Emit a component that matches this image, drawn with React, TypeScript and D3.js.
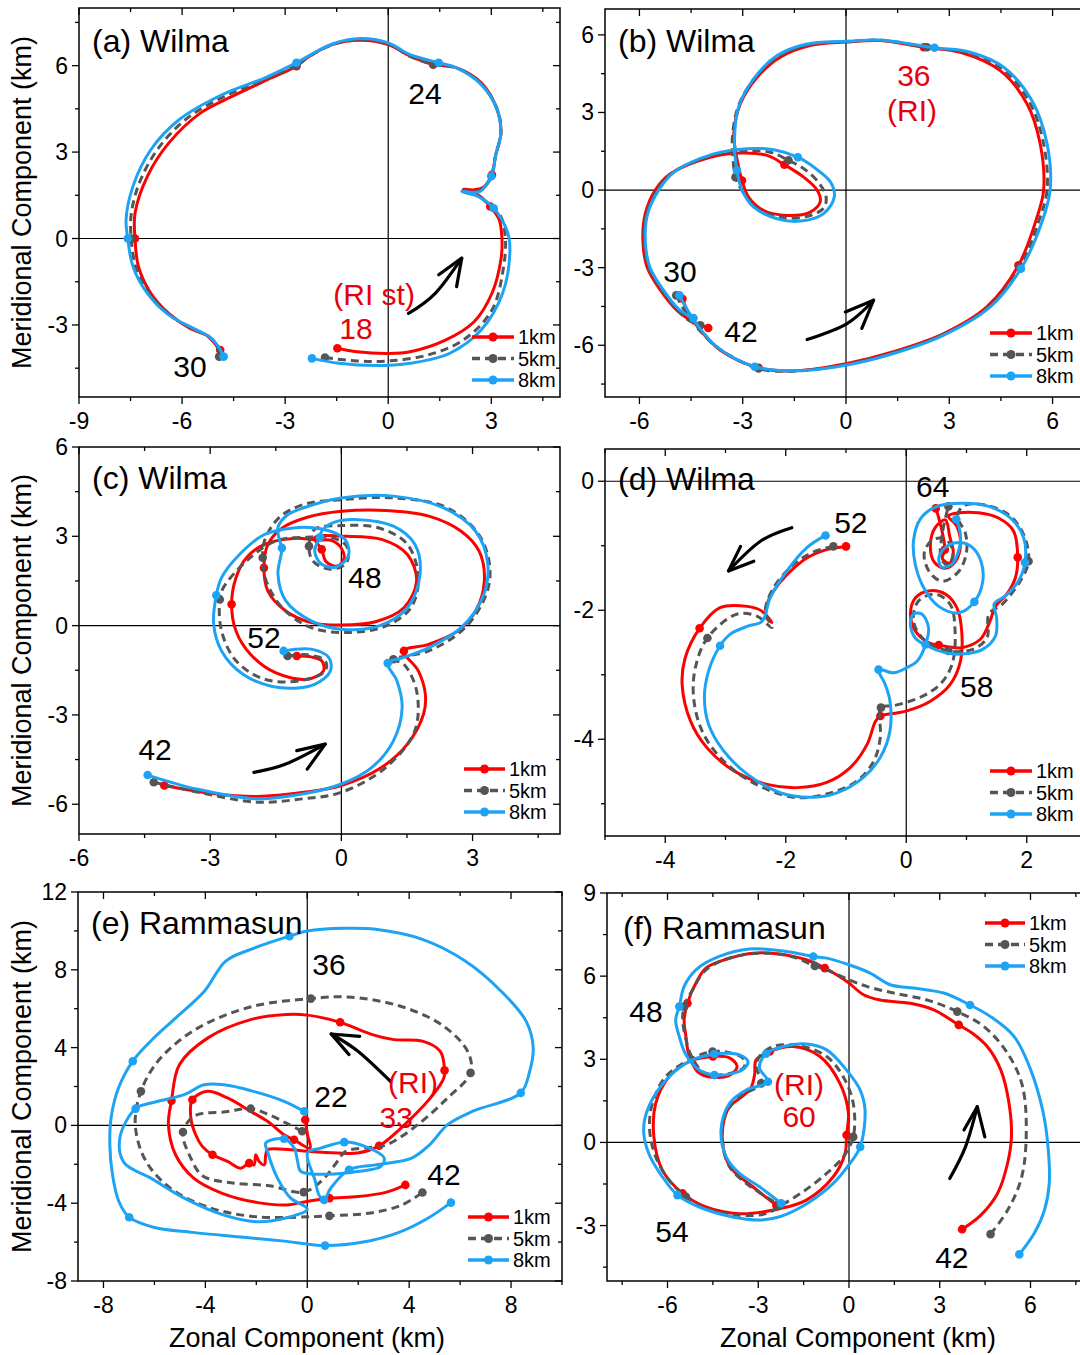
import React from "react";
import * as d3 from "d3";

type Pt = number[]; // [x, y, marker?]

// ---------------- data: panel (a) Wilma 18-30 h ----------------
const A_1KM: Pt[] = [[-1.48,-3.81,1],[-0.91,-3.93],[0,-3.99],[0.64,-3.93],[1.68,-3.52],[2.5,-2.89],[3.02,-1.9],[3.28,-0.74],[3.31,0],[3.23,0.65],[2.97,1.11,1],[2.61,1.52],[2.19,1.71],[2.5,1.69],[2.81,1.81],[3.02,2.21,1],[3.12,2.85],[3.28,3.66],[3.17,4.47],[2.71,5.4],[1.99,5.92],[1.31,6.04,1],[0.64,6.33],[0,6.73],[-0.81,6.88],[-1.63,6.73],[-2.36,6.27],[-2.67,5.98,1],[-3.5,5.52],[-4.53,4.94],[-5.46,4.36],[-6.39,3.31],[-7.01,2.16],[-7.37,0.88],[-7.37,0,1],[-7.27,-0.97],[-6.91,-1.9],[-6.39,-2.6],[-5.77,-3.12],[-5.3,-3.35],[-5.05,-3.64],[-4.89,-3.87,1]];
const A_5KM: Pt[] = [[-1.84,-4.13,1],[-0.91,-4.25],[0,-4.25],[1.16,-4.04],[2.19,-3.52],[3.02,-2.48],[3.36,-0.97],[3.41,0],[3.28,0.76],[3.0,1.1],[2.6,1.5],[2.17,1.68],[2.6,1.66],[2.8,1.8],[3.0,2.18],[3.13,2.9],[3.28,3.66],[3.18,4.47],[2.71,5.37],[1.99,5.92],[1.31,6.04,1],[0.64,6.32],[0,6.76],[-0.81,6.9],[-1.63,6.73],[-2.36,6.27],[-2.67,6.02,1],[-3.55,5.55],[-4.7,4.97],[-5.8,4.22],[-6.65,3.2],[-7.22,2.0],[-7.48,0.85],[-7.48,0,1],[-7.35,-0.97],[-6.96,-1.9],[-6.39,-2.62],[-5.72,-3.12],[-5.25,-3.38],[-5.0,-3.7],[-4.92,-4.1,1]];
const A_8KM: Pt[] = [[-2.22,-4.16,1],[-1.43,-4.33],[-0.39,-4.41],[0.64,-4.33],[1.78,-3.99],[2.71,-3.17],[3.33,-1.9],[3.54,-0.51],[3.48,0.19],[3.07,1.05,1],[2.61,1.46],[2.14,1.63],[2.66,1.63],[3.0,2.16,1],[3.14,2.97],[3.28,3.66],[3.17,4.47],[2.71,5.34],[1.99,5.92],[1.47,6.1,1],[0.64,6.38],[0,6.79],[-0.81,6.94],[-1.63,6.75],[-2.67,6.1,1],[-3.6,5.57],[-4.84,4.99],[-6.08,4.13],[-6.91,3.08],[-7.43,1.81],[-7.63,0.65],[-7.58,0,1],[-7.43,-0.97],[-7.01,-1.9],[-6.39,-2.65],[-5.67,-3.12],[-5.2,-3.41],[-4.94,-3.75],[-4.79,-4.1,1]];

// ---------------- data: panel (b) Wilma 30-42 h ----------------
const B_1KM: Pt[] = [[-4.75,-4.2,1],[-4.57,-4.77],[-4.23,-5.42],[-3.65,-6.19],[-2.54,-6.87,1],[-1.52,-6.99],[0,-6.71],[1.38,-6.25],[2.84,-5.55],[4.09,-4.52],[5.01,-2.91,1],[5.55,-1.04],[5.74,0],[5.64,1.79],[5.26,3.33],[4.48,4.62],[3.32,5.33],[2.26,5.52,1],[1.0,5.78],[0,5.72],[-1.04,5.59],[-1.91,5.14],[-2.58,4.36],[-3.07,3.33],[-3.26,2.18],[-3.21,1.53],[-3.12,0.89],[-3.02,0.37,1],[-2.83,-0.27],[-2.39,-0.79],[-1.71,-0.98],[-1.04,-0.85],[-0.75,-0.46],[-0.84,0],[-1.23,0.5],[-1.79,0.98,1],[-2.29,1.34],[-3.07,1.43],[-3.94,1.27],[-5.1,0.63],[-5.54,0],[-5.83,-0.91],[-5.9,-1.94],[-5.78,-2.97],[-5.39,-3.87],[-4.91,-4.65],[-4.42,-5.1],[-4.0,-5.33,1]];
const B_5KM: Pt[] = [[-4.93,-4.07,1],[-4.65,-4.75],[-4.3,-5.35],[-3.7,-6.12],[-2.54,-6.9,1],[-1.52,-7.0],[0,-6.74],[1.38,-6.28],[2.84,-5.58],[4.14,-4.52],[5.06,-2.97,1],[5.6,-1.2],[5.84,0],[5.74,1.79],[5.33,3.4],[4.53,4.7],[3.45,5.33],[2.35,5.52,1],[1.0,5.79],[0,5.74],[-1.08,5.62],[-1.95,5.17],[-2.65,4.33],[-3.12,3.27],[-3.3,2.05],[-3.28,1.2],[-3.21,0.5,1],[-2.98,-0.1],[-2.55,-0.73],[-1.85,-1.06],[-1.15,-1.02],[-0.65,-0.7],[-0.58,-0.25],[-0.8,0.3],[-1.2,0.8],[-1.67,1.15,1],[-2.2,1.46],[-2.98,1.52],[-3.9,1.33],[-5.05,0.66],[-5.49,0],[-5.8,-0.91],[-5.87,-1.94],[-5.74,-2.97],[-5.35,-3.87],[-4.89,-4.65],[-4.55,-5.05],[-4.23,-5.23,1]];
const B_8KM: Pt[] = [[-4.84,-4.07,1],[-4.62,-4.6],[-4.3,-5.25],[-3.75,-6.06],[-2.65,-6.83,1],[-1.52,-6.99],[0,-6.77],[1.38,-6.32],[2.84,-5.61],[4.19,-4.52],[5.08,-3.04,1],[5.64,-1.43],[5.93,0],[5.84,1.79],[5.4,3.46],[4.58,4.75],[3.61,5.33],[2.57,5.5,1],[1.0,5.8],[0,5.75],[-1.13,5.65],[-2.0,5.2],[-2.68,4.3],[-3.12,3.2],[-3.24,1.92],[-3.17,0.76,1],[-3.02,0],[-2.68,-0.66],[-2.0,-1.11],[-1.33,-1.2],[-0.65,-0.91],[-0.34,-0.27],[-0.45,0.31],[-0.94,0.89],[-1.4,1.27,1],[-2.1,1.56],[-2.88,1.6],[-3.84,1.4],[-5.0,0.69],[-5.44,0],[-5.76,-0.91],[-5.83,-1.94],[-5.7,-2.97],[-5.3,-3.87],[-4.86,-4.6],[-4.43,-4.95,1]];

// ---------------- data: panel (c) Wilma 42-54 h ----------------
const C_1KM: Pt[] = [[-4.05,-5.37,1],[-2.9,-5.65],[-1.92,-5.74],[-0.86,-5.6],[0,-5.37],[0.86,-4.82],[1.51,-3.98],[1.88,-2.97],[1.92,-2.3],[1.76,-1.52],[1.43,-0.85,1],[2.0,-0.63],[2.66,-0.18],[3.07,0.49],[3.27,1.5],[3.15,2.5],[2.74,3.17],[2.0,3.68],[1.02,3.87],[0,3.84],[-0.78,3.64],[-1.35,3.28],[-1.68,2.73],[-1.77,1.94,1],[-1.68,1.16],[-1.27,0.49],[-0.69,0.1],[0,0.02],[0.78,0.13],[1.43,0.6],[1.72,1.5],[1.51,2.39],[0.94,2.89],[0.12,3.0],[-0.61,2.95],[-0.45,2.56,1],[-0.35,2.15],[-0.1,2.0],[0.06,2.25],[0.0,2.6],[-0.2,2.85],[-0.55,2.88],[-1.1,2.93],[-1.76,2.73],[-2.17,2.28],[-2.41,1.61],[-2.51,0.72,1],[-2.41,-0.18],[-2.08,-0.96],[-1.51,-1.58],[-0.78,-1.8],[-0.41,-1.52],[-0.45,-1.18],[-0.69,-1.05],[-1.02,-1.02,1]];
const C_5KM: Pt[] = [[-4.29,-5.26,1],[-3.2,-5.62],[-1.92,-5.93],[-0.9,-5.82],[0,-5.6],[1.02,-4.76],[1.68,-3.53],[1.72,-2.19],[1.43,-1.3],[1.19,-1.13,1],[2.0,-0.85],[2.9,0.04],[3.39,1.5],[3.19,2.95],[2.41,3.96],[1.19,4.29],[0,4.23],[-0.86,4.07],[-1.43,3.62],[-1.76,2.84],[-1.8,2.28,1],[-1.72,1.5],[-1.35,0.6],[-0.69,-0.07],[0.2,-0.23],[1.02,-0.01],[1.59,0.6],[1.76,1.61],[1.51,2.73],[0.86,3.28],[0.04,3.36],[-0.61,3.23],[-0.74,2.67,1],[-0.65,2.17],[-0.25,1.89],[0.12,2.11],[0.12,2.67],[-0.2,2.95],[-0.78,2.97],[-1.51,2.84],[-2.17,2.17],[-2.7,1.27],[-2.78,0.88,1],[-2.74,-0.18],[-2.41,-1.18],[-1.76,-1.8],[-0.94,-1.85],[-0.37,-1.52],[-0.37,-1.18],[-0.78,-0.98],[-1.23,-1.02,1]];
const C_8KM: Pt[] = [[-4.43,-5.02,1],[-3.31,-5.49],[-1.92,-5.82],[-0.86,-5.65],[0,-5.32],[0.7,-4.76],[1.19,-3.87],[1.39,-2.75],[1.27,-1.85],[1.06,-1.26,1],[1.43,-1.07],[2.0,-0.74],[2.74,-0.07],[3.23,0.94],[3.35,2.06],[3.07,3.17],[2.33,3.96],[1.19,4.35],[0,4.29],[-0.86,3.96],[-1.25,3.7],[-1.45,3.3],[-1.42,2.9],[-1.36,2.61,1],[-1.45,1.72],[-1.27,0.83],[-0.69,0.16],[0,-0.12],[0.86,-0.01],[1.51,0.6],[1.8,1.72],[1.68,2.73],[1.19,3.34],[0.37,3.56],[-0.2,3.45],[-0.45,3.17],[-0.49,2.97,1],[-0.61,2.5],[-0.45,2.06],[-0.12,1.97],[0.16,2.34],[0.11,2.84],[-0.16,3.12],[-0.61,3.28],[-1.1,3.28],[-1.76,3.06],[-2.33,2.39],[-2.74,1.61],[-2.86,1.02,1],[-2.92,0.04],[-2.74,-0.85],[-2.25,-1.63],[-1.43,-2.08],[-0.61,-1.97],[-0.25,-1.52],[-0.29,-1.07],[-0.69,-0.79],[-1.32,-0.85,1]];

// ---------------- data: panel (d) Wilma 52-64 h ----------------
const D_1KM: Pt[] = [[-1.0,-1.01,1],[-1.32,-1.06],[-1.65,-1.19],[-1.98,-1.45],[-2.2,-1.7],[-2.31,-1.91],[-2.32,-2.12],[-2.23,-2.19],[-2.4,-2.01],[-2.64,-1.94],[-3.09,-1.96],[-3.43,-2.28,1],[-3.67,-2.74],[-3.72,-3.15],[-3.58,-3.72],[-3.31,-4.13],[-2.86,-4.49],[-2.31,-4.7],[-1.81,-4.75],[-1.32,-4.67],[-0.93,-4.44],[-0.65,-4.08],[-0.51,-3.72],[-0.43,-3.64,1],[-0.21,-3.6],[0.01,-3.56],[0.4,-3.41],[0.73,-3.15],[0.9,-2.79],[0.92,-2.32],[0.84,-1.96],[0.65,-1.75],[0.37,-1.7],[0.15,-1.81],[0.07,-2.06],[0.15,-2.32],[0.37,-2.5],[0.54,-2.54,1],[0.92,-2.58],[1.23,-2.45],[1.39,-2.17],[1.48,-1.94],[1.67,-1.75],[1.81,-1.5],[1.85,-1.18,1],[1.78,-0.77],[1.53,-0.57],[1.2,-0.49],[0.87,-0.49],[0.7,-0.54],[0.84,-0.7],[0.9,-0.98],[0.82,-1.24],[0.65,-1.35],[0.47,-1.26],[0.4,-1.01],[0.48,-0.72],[0.65,-0.6],[0.72,-0.85],[0.78,-1.1],[0.72,-1.27],[0.6,-1.2],[0.64,-1.06,1],[0.6,-0.8],[0.54,-0.57],[0.49,-0.42,1]];
const D_5KM: Pt[] = [[-1.21,-1.01,1],[-1.55,-1.1],[-1.87,-1.29],[-2.2,-1.65],[-2.34,-2.01],[-2.23,-2.27],[-2.48,-2.09],[-2.81,-2.06],[-3.3,-2.43,1],[-3.5,-2.89],[-3.53,-3.35],[-3.39,-3.87],[-3.09,-4.28],[-2.59,-4.65],[-1.87,-4.9],[-1.32,-4.85],[-0.82,-4.65],[-0.54,-4.34],[-0.43,-3.97],[-0.42,-3.51,1],[-0.21,-3.48],[0.23,-3.35],[0.56,-3.15],[0.76,-2.84],[0.81,-2.32],[0.73,-1.91],[0.48,-1.75],[0.2,-1.86],[0.12,-2.17],[0.32,-2.48],[0.7,-2.63,1],[1.09,-2.61],[1.34,-2.43],[1.37,-2.06],[1.59,-1.91],[1.89,-1.55],[2.03,-1.24,1],[1.95,-0.83],[1.7,-0.52],[1.26,-0.36],[0.95,-0.38],[0.85,-0.55],[0.98,-0.8],[1.0,-1.1],[0.87,-1.4],[0.6,-1.55],[0.38,-1.4],[0.3,-1.1],[0.45,-0.9],[0.65,-0.9],[0.78,-1.1],[0.7,-1.3],[0.58,-1.2],[0.6,-0.8],[0.7,-0.39,1]];
const D_8KM: Pt[] = [[-1.34,-0.84,1],[-1.65,-1.03],[-1.98,-1.39],[-2.26,-1.81],[-2.39,-2.17],[-2.64,-2.25],[-2.92,-2.37],[-3.09,-2.55,1],[-3.28,-2.94],[-3.35,-3.35],[-3.28,-3.77],[-3.03,-4.18],[-2.64,-4.54],[-2.09,-4.83],[-1.59,-4.9],[-1.15,-4.83],[-0.71,-4.59],[-0.43,-4.28],[-0.27,-3.87],[-0.27,-3.41],[-0.35,-3.15],[-0.46,-2.92,1],[-0.21,-2.97],[0.01,-2.89],[0.18,-2.79],[0.32,-2.53,1],[0.37,-2.27],[0.26,-2.06],[0.12,-2.06],[0.07,-2.22],[0.15,-2.43],[0.34,-2.55],[0.65,-2.66],[0.92,-2.68],[1.26,-2.61],[1.48,-2.4],[1.5,-2.12],[1.46,-1.9],[1.64,-1.78],[1.86,-1.55],[1.97,-1.26,1],[1.95,-0.88],[1.73,-0.57],[1.37,-0.39],[0.92,-0.34],[0.48,-0.4],[0.23,-0.59],[0.12,-0.93],[0.15,-1.29],[0.29,-1.65],[0.54,-1.94],[0.87,-2.04],[1.13,-1.87,1],[1.27,-1.55],[1.24,-1.24],[1.1,-1.03],[0.9,-0.95],[0.67,-1.01],[0.54,-1.19],[0.59,-1.33],[0.75,-1.29],[0.86,-1.11],[0.9,-0.83],[0.83,-0.59,1]];

// ---------------- data: panel (e) Rammasun 22-42 h ----------------
const E_1KM: Pt[] = [[-0.08,0.29,1],[0.01,-0.48],[0.11,-1.17],[-0.52,-0.74,1],[-0.91,-0.48],[-1.56,0.21],[-2.22,0.72],[-3.13,1.41],[-3.92,1.75],[-4.51,1.32,1],[-4.57,0.38],[-4.38,-0.48],[-4.12,-1.08],[-3.72,-1.51,1],[-3.13,-1.85],[-2.61,-2.2],[-2.28,-1.94,1],[-2.09,-2.03],[-2.02,-1.51],[-1.89,-1.85],[-1.69,-2.03],[-1.63,-1.51],[-1.56,-1.25],[-0.65,-1.25],[0.11,-1.34],[1.18,-1.42],[1.97,-1.42],[2.82,-1.05,1],[3.96,0.21],[4.94,1.58],[5.36,2.44],[5.39,2.83,1],[5.22,3.81],[4.52,4.33],[3.4,4.41],[2.55,4.67],[1.29,5.3,1],[0,5.67],[-0.81,5.7],[-2.22,5.44],[-3.9,4.5],[-5.02,3.12],[-5.33,1.27,1],[-5.45,0.03],[-5.17,-1.51],[-4.46,-2.71],[-3.34,-3.49],[-1.94,-3.97],[-0.81,-4.09],[0,-3.91],[0.87,-3.74,1],[1.99,-3.66],[3.12,-3.43],[3.85,-3.06,1]];
const E_5KM: Pt[] = [[-0.2,-0.3,1],[-0.8,0.1],[-1.5,0.55],[-2.22,0.86,1],[-3.2,0.7],[-4.4,0.5],[-4.88,-0.34,1],[-4.6,-1.6],[-4.1,-2.6],[-3.0,-2.95],[-1.5,-3.1],[-0.14,-3.43,1],[0.6,-2.8],[1.1,-2.0],[1.5,-1.35],[2.3,-1.15],[3.1,-1.0],[4.3,0.0],[5.5,1.4],[6.41,2.7,1],[6.3,3.8],[5.3,5.15],[3.6,6.15],[1.6,6.6],[0.14,6.52,1],[-2.2,6.1],[-4.3,5.0],[-5.8,3.4],[-6.53,1.75,1],[-6.75,0],[-6.35,-1.8],[-5.4,-3.2],[-3.9,-4.2],[-2.0,-4.7],[0,-4.7],[0.87,-4.65,1],[2.5,-4.5],[3.7,-4.1],[4.52,-3.45,1]];
const E_8KM: Pt[] = [[-0.12,0.72,1],[-0.91,1.24],[-2.22,1.79],[-3.26,2.09],[-4.05,2.09],[-4.83,1.58],[-6.14,1.15],[-6.74,0.86,1],[-7.35,-0.6],[-7.2,-1.9],[-6.14,-2.71],[-4.83,-3.74],[-3.3,-4.6],[-2.0,-4.95],[-0.81,-4.75],[0.0,-4.3],[-0.65,-3.74],[-1.17,-2.71],[-1.56,-1.34],[-1.63,-0.91],[-0.91,-0.69,1],[-0.5,-1.2],[-0.38,-1.85],[-0.25,-2.37],[0.79,-2.51],[1.97,-2.37],[2.89,-2.11],[3.02,-1.68],[2.36,-1.13],[1.45,-0.86,1],[0.53,-1.17],[0.01,-1.42],[0.3,-2.8],[0.47,-3.6],[0.66,-3.83,1],[0.92,-3.23],[1.64,-2.28,1],[2.69,-2.03],[4.1,-1.68],[4.8,-1.0],[5.5,0.03],[6.48,0.72],[8.38,1.67,1],[8.73,2.78],[8.87,3.98],[8.59,5.36],[7.61,6.9],[6.2,8.45],[4.52,9.56],[2.69,10.08],[1.43,10.13],[0,9.99],[-0.7,9.73,1],[-2.22,9.05],[-3.2,8.45],[-4.04,6.9],[-5.16,5.53],[-6.15,4.33],[-6.85,3.3,1],[-7.41,1.92],[-7.7,0.4],[-7.75,-1.0],[-7.65,-2.5],[-7.4,-3.9],[-6.99,-4.72,1],[-6.0,-5.25],[-4.5,-5.5],[-2.5,-5.75],[-0.91,-5.95],[0.7,-6.18,1],[2.2,-6.0],[3.6,-5.5],[4.7,-4.8],[5.64,-3.97,1]];

// ---------------- data: panel (f) Rammasun 42-60 h ----------------
const F_1KM: Pt[] = [[3.74,-3.13,1],[4.35,-2.63],[4.91,-1.84],[5.24,-0.76],[5.37,0.2],[5.29,1.41],[5.02,2.61],[4.57,3.46],[4.08,3.94],[3.63,4.24,1],[2.8,4.78],[2.03,5.02],[1.03,5.14],[0.48,5.33],[0,5.75],[-0.41,6.05],[-0.8,6.29,1],[-1.41,6.59],[-2.4,6.81],[-3.18,6.83],[-4.06,6.61],[-4.73,6.29],[-5.06,5.75],[-5.34,5.02,1],[-5.45,4.42],[-5.39,3.82],[-5.3,3.2],[-5.0,2.55],[-4.5,2.35],[-3.9,2.45],[-3.7,2.75],[-3.95,3.05],[-4.5,3.1,1],[-5.28,2.92],[-5.95,2.37],[-6.39,1.41],[-6.45,0.2],[-6.17,-1.0],[-5.5,-1.84,1],[-4.73,-2.33],[-3.62,-2.57],[-2.29,-2.39],[-1.41,-2.08],[-0.52,-1.24],[-0.13,-0.4],[-0.08,0.27,1],[-0.02,1.05],[-0.3,2.13],[-0.96,3.1],[-1.85,3.46],[-2.62,3.28,1],[-3.07,2.98],[-3.12,2.45],[-3.25,1.95],[-3.6,1.6],[-3.95,1.29],[-4.17,0.57],[-4.12,-0.4],[-3.84,-1.0],[-3.18,-1.6],[-2.4,-2.27,1]];
const F_5KM: Pt[] = [[4.68,-3.31,1],[5.24,-2.45],[5.68,-1.36],[5.85,-0.04],[5.74,2.01],[5.24,3.22],[4.46,4.18],[3.58,4.72,1],[2.58,5.14],[1.47,5.39],[0.59,5.63],[0,5.87],[-0.74,6.23],[-1.13,6.37,1],[-1.85,6.69],[-2.74,6.83],[-3.84,6.69],[-4.73,6.23],[-5.17,5.51],[-5.45,4.9,1],[-5.5,4.42],[-5.41,3.82],[-5.23,3.16],[-4.84,2.55],[-4.4,2.43],[-3.73,2.55],[-3.46,2.73],[-3.51,3.04],[-3.95,3.24],[-4.51,3.28,1],[-5.17,3.04],[-6.06,2.37],[-6.5,1.41],[-6.59,0.45],[-6.39,-0.52],[-5.95,-1.36],[-5.39,-1.96,1],[-4.73,-2.39],[-3.62,-2.63],[-2.74,-2.57],[-2.24,-2.27],[-1.52,-1.78],[-0.74,-1.12],[-0.19,-0.52],[0.14,0.2,1],[0.14,1.41],[-0.19,2.37],[-0.74,3.1],[-1.63,3.49],[-2.51,3.46],[-2.96,3.1],[-3.07,2.73],[-2.9,2.13,1],[-3.62,1.65],[-4.12,0.93],[-4.17,-0.04],[-3.95,-0.88],[-3.4,-1.48],[-2.74,-1.96],[-2.29,-2.27,1]];
const F_8KM: Pt[] = [[5.63,-4.04,1],[6.12,-3.29],[6.46,-2.45],[6.62,-1.48],[6.57,-0.04],[6.4,1.17],[6.01,2.61],[5.46,3.82],[4.68,4.54],[4.0,4.96,1],[3.13,5.39],[2.14,5.57],[1.36,5.69],[0.7,6.11],[0,6.41],[-0.74,6.65],[-1.18,6.71,1],[-2.07,6.89],[-3.29,6.98],[-4.29,6.71],[-5.06,6.23],[-5.45,5.63],[-5.61,4.9,1],[-5.73,4.42],[-5.61,3.82],[-5.39,3.16],[-4.95,2.61],[-4.45,2.43,1],[-3.84,2.49],[-3.46,2.67],[-3.34,2.92],[-3.62,3.16],[-4.06,3.22],[-4.45,3.19,1],[-5.17,2.98],[-5.95,2.37],[-6.62,1.29],[-6.79,0.45],[-6.62,-0.4],[-6.17,-1.24],[-5.67,-1.9,1],[-4.95,-2.33],[-3.84,-2.69],[-2.96,-2.8],[-2.29,-2.68],[-1.41,-2.22],[-0.52,-1.48],[0.03,-0.76],[0.37,-0.16,1],[0.53,1.17],[0.37,1.89],[-0.08,2.61],[-0.74,3.34],[-1.41,3.55],[-2.18,3.46],[-2.74,3.2,1],[-2.96,2.7],[-2.68,2.19,1],[-3.4,1.89],[-3.95,1.41],[-4.23,0.45],[-4.06,-0.52],[-3.62,-1.12],[-2.96,-1.6],[-2.24,-2.2,1]];

// ---------------- tick labels ----------------
const A_XLAB = [-9, -6, -3, 0, 3];
const A_YLAB = [-3, 0, 3, 6];
const B_XLAB = [-6, -3, 0, 3, 6];
const B_YLAB = [-6, -3, 0, 3, 6];
const C_XLAB = [-6, -3, 0, 3];
const C_YLAB = [-6, -3, 0, 3, 6];
const D_XLAB = [-4, -2, 0, 2];
const D_YLAB = [-4, -2, 0];
const E_XLAB = [-8, -4, 0, 4, 8];
const E_YLAB = [-8, -4, 0, 4, 8, 12];
const F_XLAB = [-6, -3, 0, 3, 6];
const F_YLAB = [-3, 0, 3, 6, 9];

// ---------------- annotations (text, x, y, red?) in data units ----------------
const A_NOTES: [string, number, number, number][] = [["24", 1.07, 4.67, 0], ["30", -5.77, -4.81, 0], ["(RI st)", -0.41, -2.31, 1], ["18", -0.94, -3.49, 1]];
const B_NOTES: [string, number, number, number][] = [["36", 1.97, 4.02, 1], ["(RI)", 1.92, 2.67, 1], ["30", -4.82, -3.55, 0], ["42", -3.05, -5.87, 0]];
const C_NOTES: [string, number, number, number][] = [["48", 0.54, 1.26, 0], ["52", -1.77, -0.75, 0], ["42", -4.26, -4.51, 0]];
const D_NOTES: [string, number, number, number][] = [["64", 0.44, -0.24, 0], ["52", -0.92, -0.8, 0], ["58", 1.17, -3.34, 0]];
const E_NOTES: [string, number, number, number][] = [["36", 0.85, 7.73, 0], ["22", 0.93, 0.95, 0], ["(RI)", 4.15, 1.68, 1], ["33", 3.49, -0.12, 1], ["42", 5.37, -3.06, 0]];
const F_NOTES: [string, number, number, number][] = [["48", -6.71, 4.34, 0], ["54", -5.85, -3.59, 0], ["42", 3.4, -4.53, 0], ["(RI)", -1.65, 1.7, 1], ["60", -1.65, 0.56, 1]];

// arrows: tail, middle, tip, wing1, wing2 (data units)
const A_ARROW = [[0.59, -2.6], [1.37, -1.9], [2.14, -0.68], [1.47, -1.26], [1.99, -1.67]];
const B_ARROW = [[-1.13, -5.78], [0.03, -5.16], [0.8, -4.26], [-0.02, -4.71], [0.46, -5.35]];
const C_ARROW = [[-2.0, -4.93], [-1.27, -4.65], [-0.37, -3.98], [-1.02, -4.2], [-0.78, -4.82]];
const D_ARROW = [[-1.9, -0.72], [-2.42, -0.93], [-2.95, -1.39], [-2.75, -1.01], [-2.53, -1.24]];
const E_ARROW = [[3.26, 2.27], [1.99, 3.81], [0.94, 4.7], [2.06, 4.58], [1.64, 3.64]];
const F_ARROW = [[3.33, -1.3], [3.85, -0.16], [4.24, 1.29], [3.8, 0.45], [4.49, 0.2]];

const LEVELS = ["1km", "5km", "8km"];
const COLORS = ["#ff0000", "#555555", "#1ca3f4"];
const DASHES = ["", "8,5", ""];
const FONT = "'Liberation Sans', Arial, Helvetica, sans-serif";

type PanelCfg = {
  id: string; title: string; box: number[]; xd: number[]; yd: number[]; step: number;
  xl: number[]; yl: number[]; series: Pt[][]; notes: [string, number, number, number][];
  arrow: number[][]; legend: number[]; titleOff: number[]; yTitle: boolean; xTitle: number | null;
};

const PANELS: PanelCfg[] = [
  { id: "a", title: "(a) Wilma", box: [79, 8, 560, 397], xd: [-9, 5], yd: [-5.5, 8], step: 1.5, xl: A_XLAB, yl: A_YLAB, series: [A_1KM, A_5KM, A_8KM], notes: A_NOTES, arrow: A_ARROW, legend: [472, 514, 337], titleOff: [13, 44], yTitle: true, xTitle: null },
  { id: "b", title: "(b) Wilma", box: [605, 9, 1087, 397], xd: [-7, 7], yd: [-8, 7], step: 1.5, xl: B_XLAB, yl: B_YLAB, series: [B_1KM, B_5KM, B_8KM], notes: B_NOTES, arrow: B_ARROW, legend: [990, 1032, 333], titleOff: [13, 43], yTitle: false, xTitle: null },
  { id: "c", title: "(c) Wilma", box: [79, 447, 560, 834], xd: [-6, 5], yd: [-7, 6], step: 1.5, xl: C_XLAB, yl: C_YLAB, series: [C_1KM, C_5KM, C_8KM], notes: C_NOTES, arrow: C_ARROW, legend: [464, 505, 769], titleOff: [13, 42], yTitle: true, xTitle: null },
  { id: "d", title: "(d) Wilma", box: [605, 449, 1087, 836], xd: [-5, 3], yd: [-5.5, 0.5], step: 1, xl: D_XLAB, yl: D_YLAB, series: [D_1KM, D_5KM, D_8KM], notes: D_NOTES, arrow: D_ARROW, legend: [990, 1032, 771], titleOff: [13, 41], yTitle: false, xTitle: null },
  { id: "e", title: "(e) Rammasun", box: [78, 892, 562, 1281], xd: [-9, 10], yd: [-8, 12], step: 2, xl: E_XLAB, yl: E_YLAB, series: [E_1KM, E_5KM, E_8KM], notes: E_NOTES, arrow: E_ARROW, legend: [468, 509, 1217], titleOff: [13, 42], yTitle: true, xTitle: 307 },
  { id: "f", title: "(f) Rammasun", box: [607, 893, 1091, 1281], xd: [-8, 8], yd: [-5, 9], step: 1.5, xl: F_XLAB, yl: F_YLAB, series: [F_1KM, F_5KM, F_8KM], notes: F_NOTES, arrow: F_ARROW, legend: [985, 1025, 923], titleOff: [16, 46], yTitle: false, xTitle: 858 },
];

function Panel({ p }: { p: PanelCfg }) {
  const [L, T, R, B] = p.box;
  const xs = d3.scaleLinear().domain(p.xd).range([L, R]);
  const ys = d3.scaleLinear().domain(p.yd).range([B, T]);
  const line = d3.line<Pt>().x((d) => xs(d[0])).y((d) => ys(d[1])).curve(d3.curveCatmullRom.alpha(0.5));
  const eps = 1e-6;
  const xt = d3.range(Math.ceil(p.xd[0] / p.step - eps) * p.step, p.xd[1] + eps, p.step);
  const yt = d3.range(Math.ceil(p.yd[0] / p.step - eps) * p.step, p.yd[1] + eps, p.step);
  const has = (arr: number[], v: number) => arr.some((a) => Math.abs(a - v) < 1e-6);
  const arrowLine = d3.line<number[]>().x((d) => xs(d[0])).y((d) => ys(d[1])).curve(d3.curveNatural);
  const [at, am, ah, aw1, aw2] = p.arrow;
  const cy = (T + B) / 2;
  return (
    <g>
      <defs>
        <clipPath id={"clip-" + p.id}>
          <rect x={L} y={T} width={R - L} height={B - T} />
        </clipPath>
      </defs>
      <g clipPath={`url(#clip-${p.id})`}>
        <line x1={xs(0)} x2={xs(0)} y1={T} y2={B} stroke="#000" strokeWidth={1.2} />
        <line x1={L} x2={R} y1={ys(0)} y2={ys(0)} stroke="#000" strokeWidth={1.2} />
        {p.series.map((s, i) => (
          <g key={i}>
            <path d={line(s) || ""} fill="none" stroke={COLORS[i]} strokeWidth={3} strokeDasharray={DASHES[i] || undefined} strokeLinejoin="round" />
            {s.filter((d) => d[2]).map((d, j) => (
              <circle key={j} cx={xs(d[0])} cy={ys(d[1])} r={4.3} fill={COLORS[i]} />
            ))}
          </g>
        ))}
        <path d={arrowLine([at, am, ah]) || ""} fill="none" stroke="#000" strokeWidth={3.2} strokeLinecap="round" />
        <path d={`M${xs(aw1[0])},${ys(aw1[1])}L${xs(ah[0])},${ys(ah[1])}L${xs(aw2[0])},${ys(aw2[1])}`} fill="none" stroke="#000" strokeWidth={3.2} strokeLinecap="round" strokeLinejoin="round" />
      </g>
      <rect x={L} y={T} width={R - L} height={B - T} fill="none" stroke="#000" strokeWidth={1.5} />
      {xt.map((v, i) => {
        const big = has(p.xl, v);
        const x = xs(v);
        return (
          <g key={"xt" + i}>
            <line x1={x} x2={x} y1={B} y2={B + (big ? 7 : 4)} stroke="#000" strokeWidth={1.3} />
            <line x1={x} x2={x} y1={T} y2={T + (big ? 7 : 4)} stroke="#000" strokeWidth={1.3} />
          </g>
        );
      })}
      {yt.map((v, i) => {
        const big = has(p.yl, v);
        const y = ys(v);
        return (
          <g key={"yt" + i}>
            <line x1={L} x2={L - (big ? 7 : 4)} y1={y} y2={y} stroke="#000" strokeWidth={1.3} />
            <line x1={R} x2={R - (big ? 7 : 4)} y1={y} y2={y} stroke="#000" strokeWidth={1.3} />
          </g>
        );
      })}
      {p.xl.map((v) => (
        <text key={"xl" + v} x={xs(v)} y={B + 32} textAnchor="middle" fontSize={23} fontFamily={FONT}>{String(v)}</text>
      ))}
      {p.yl.map((v) => (
        <text key={"yl" + v} x={L - 11} y={ys(v) + 8} textAnchor="end" fontSize={23} fontFamily={FONT}>{String(v)}</text>
      ))}
      <text x={L + p.titleOff[0]} y={T + p.titleOff[1]} fontSize={32} fontFamily={FONT}>{p.title}</text>
      {p.notes.map((n, i) => (
        <text key={"n" + i} x={xs(n[1])} y={ys(n[2])} textAnchor="middle" fontSize={30} fontFamily={FONT} fill={n[3] ? "#e8000b" : "#000"}>{n[0]}</text>
      ))}
      {LEVELS.map((lv, i) => {
        const y = p.legend[2] + i * 21.5;
        return (
          <g key={lv}>
            <line x1={p.legend[0]} x2={p.legend[1]} y1={y} y2={y} stroke={COLORS[i]} strokeWidth={3.5} strokeDasharray={DASHES[i] || undefined} />
            <circle cx={(p.legend[0] + p.legend[1]) / 2} cy={y} r={4.5} fill={COLORS[i]} />
            <text x={p.legend[1] + 4} y={y + 7} fontSize={20} fontFamily={FONT}>{lv}</text>
          </g>
        );
      })}
      {p.yTitle && (
        <text transform={`translate(31,${cy}) rotate(-90)`} textAnchor="middle" fontSize={27} fontFamily={FONT}>Meridional Component (km)</text>
      )}
      {p.xTitle !== null && (
        <text x={p.xTitle} y={1347} textAnchor="middle" fontSize={27} fontFamily={FONT}>Zonal Component (km)</text>
      )}
    </g>
  );
}

export default function App() {
  return (
    <svg width={1080} height={1355} viewBox="0 0 1080 1355" style={{ position: "absolute", left: 0, top: 0, background: "#fff" }}>
      <rect x={0} y={0} width={1080} height={1355} fill="#fff" />
      {PANELS.map((p) => (
        <Panel key={p.id} p={p} />
      ))}
    </svg>
  );
}
